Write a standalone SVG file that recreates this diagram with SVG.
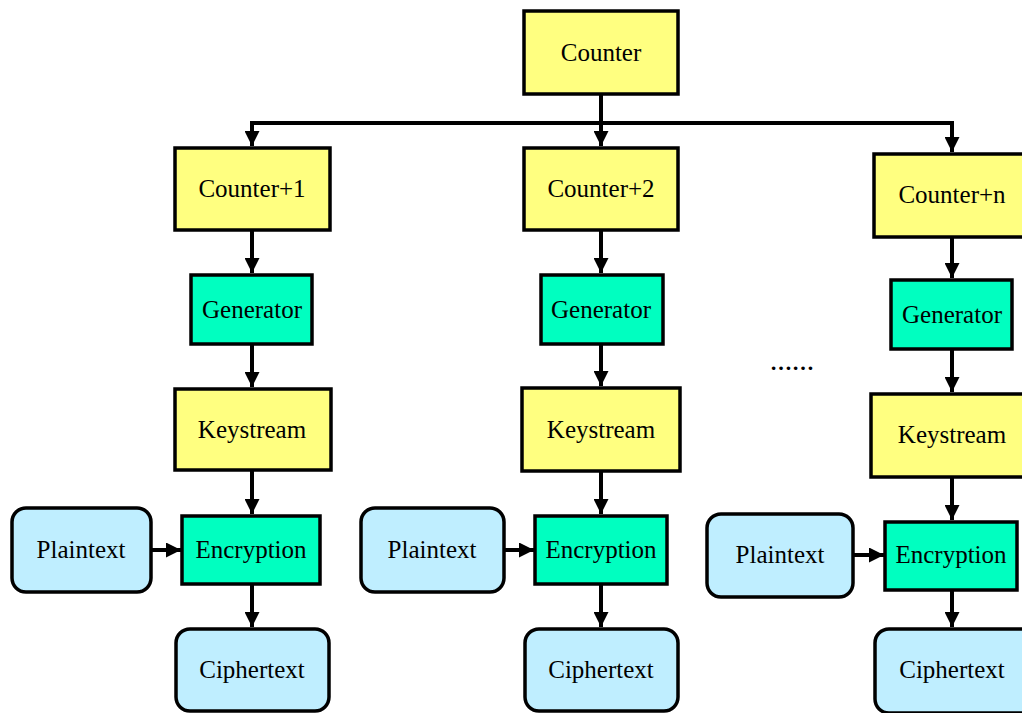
<svg xmlns="http://www.w3.org/2000/svg" width="1022" height="713" viewBox="0 0 1022 713">
<style>
.y{fill:#FFFF80;stroke:#000;stroke-width:3.5}
.g{fill:#00FFC0;stroke:#000;stroke-width:3.5}
.b{fill:#BFEEFF;stroke:#000;stroke-width:3.5}
text{font-family:"Liberation Serif","Times New Roman",serif;font-size:25px;fill:#000;text-anchor:middle}
.c line,.c path{stroke:#000;stroke-width:4;fill:none}
.dots{font-weight:bold;font-size:22px}
</style>
<defs>
<marker id="ah" markerUnits="userSpaceOnUse" markerWidth="15" markerHeight="15" viewBox="0 0 15 15" refX="15" refY="7.5" orient="auto">
<path d="M0,0 L15,7.5 L0,15 z" fill="#000"/>
</marker>
</defs>
<rect width="1022" height="713" fill="#fff"/>
<g class="c">
<line x1="601" y1="95" x2="601" y2="146" marker-end="url(#ah)"/>
<line x1="250" y1="123" x2="954" y2="123"/>
<line x1="252" y1="123" x2="252" y2="146" marker-end="url(#ah)"/>
<line x1="952" y1="123" x2="952" y2="152" marker-end="url(#ah)"/>
<line x1="252" y1="231" x2="252" y2="273" marker-end="url(#ah)"/>
<line x1="252" y1="345" x2="252" y2="387" marker-end="url(#ah)"/>
<line x1="252" y1="471" x2="252" y2="514" marker-end="url(#ah)"/>
<line x1="252" y1="585" x2="252" y2="627" marker-end="url(#ah)"/>
<line x1="151" y1="550" x2="181" y2="550" marker-end="url(#ah)"/>
<line x1="601" y1="231" x2="601" y2="273" marker-end="url(#ah)"/>
<line x1="601" y1="345" x2="601" y2="386" marker-end="url(#ah)"/>
<line x1="601" y1="472" x2="601" y2="514" marker-end="url(#ah)"/>
<line x1="601" y1="585" x2="601" y2="627" marker-end="url(#ah)"/>
<line x1="505" y1="550" x2="534" y2="550" marker-end="url(#ah)"/>
<line x1="952" y1="238" x2="952" y2="278" marker-end="url(#ah)"/>
<line x1="952" y1="350" x2="952" y2="392" marker-end="url(#ah)"/>
<line x1="952" y1="478" x2="952" y2="520" marker-end="url(#ah)"/>
<line x1="952" y1="591" x2="952" y2="627" marker-end="url(#ah)"/>
<line x1="854" y1="555" x2="884" y2="555" marker-end="url(#ah)"/>
</g>
<g id="counter"><rect class="y" x="524" y="11" width="154" height="83"/><text x="601" y="61">Counter</text></g>
<g id="counter1"><rect class="y" x="175" y="148" width="155" height="82"/><text x="252" y="197">Counter+1</text></g>
<g id="generator1"><rect class="g" x="191" y="275" width="121" height="69"/><text x="252" y="318">Generator</text></g>
<g id="keystream1"><rect class="y" x="175" y="389" width="156" height="81"/><text x="252" y="438">Keystream</text></g>
<g id="encryption1"><rect class="g" x="182" y="516" width="138" height="68"/><text x="251" y="558">Encryption</text></g>
<g id="plaintext1"><rect class="b" x="12" y="508" width="139" height="84" rx="14"/><text x="81" y="558">Plaintext</text></g>
<g id="ciphertext1"><rect class="b" x="176" y="629" width="153" height="82" rx="14"/><text x="252" y="678">Ciphertext</text></g>
<g id="counter2"><rect class="y" x="524" y="148" width="154" height="82"/><text x="601" y="197">Counter+2</text></g>
<g id="generator2"><rect class="g" x="541" y="275" width="122" height="69"/><text x="601" y="318">Generator</text></g>
<g id="keystream2"><rect class="y" x="522" y="388" width="158" height="83"/><text x="601" y="438">Keystream</text></g>
<g id="encryption2"><rect class="g" x="535" y="516" width="132" height="68"/><text x="601" y="558">Encryption</text></g>
<g id="plaintext2"><rect class="b" x="361" y="508" width="143" height="84" rx="14"/><text x="432" y="558">Plaintext</text></g>
<g id="ciphertext2"><rect class="b" x="525" y="629" width="153" height="82" rx="14"/><text x="601" y="678">Ciphertext</text></g>
<g id="counterN"><rect class="y" x="874" y="154" width="156" height="83"/><text x="952" y="203">Counter+n</text></g>
<g id="generator3"><rect class="g" x="891" y="280" width="121" height="69"/><text x="952" y="323">Generator</text></g>
<g id="keystream3"><rect class="y" x="871" y="394" width="159" height="83"/><text x="952" y="443">Keystream</text></g>
<g id="encryption3"><rect class="g" x="885" y="522" width="132" height="68"/><text x="951" y="563">Encryption</text></g>
<g id="plaintext3"><rect class="b" x="707" y="514" width="146" height="83" rx="14"/><text x="780" y="563">Plaintext</text></g>
<g id="ciphertext3"><rect class="b" x="875" y="629" width="160" height="84" rx="14"/><text x="952" y="678">Ciphertext</text></g>
<g id="dots"><text class="dots" x="792" y="370">……</text></g>
</svg>
